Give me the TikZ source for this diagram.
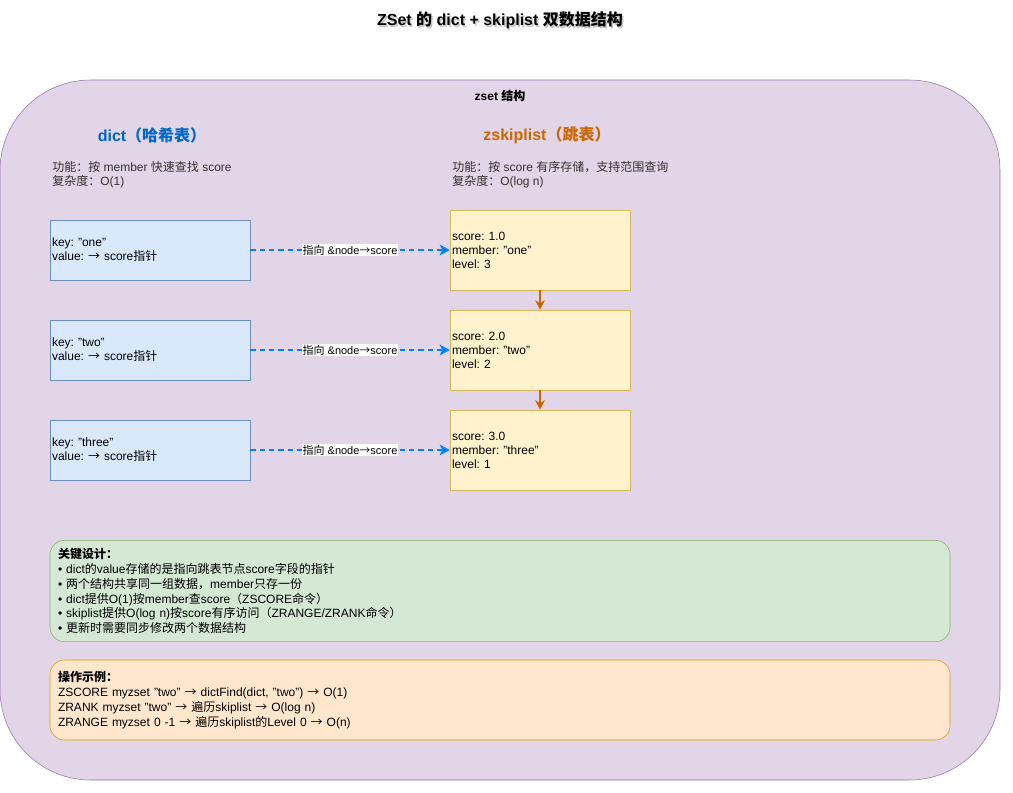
\documentclass[tikz,border=0pt]{standalone}
\usepackage{fontspec}
\setmainfont{Liberation Sans}
\newfontfamily\zhfont{Noto Sans CJK SC}
\newcommand{\zh}[1]{{\zhfont #1}}
\usepackage{xcolor}
\usepackage{tikz}
\usetikzlibrary{arrows.meta, positioning}
\frenchspacing
\definecolor{setfill}{HTML}{E1D5E7}
\definecolor{setdraw}{HTML}{9673A6}
\definecolor{dictfill}{HTML}{DAE8FC}
\definecolor{dictdraw}{HTML}{6C8EBF}
\definecolor{skipfill}{HTML}{FFF2CC}
\definecolor{skipdraw}{HTML}{D6B656}
\definecolor{keyfill}{HTML}{D5E8D4}
\definecolor{keydraw}{HTML}{82B366}
\definecolor{opfill}{HTML}{FFE6CC}
\definecolor{opdraw}{HTML}{D79B00}
\definecolor{ptrblue}{HTML}{007FFF}
\definecolor{dictblue}{HTML}{0066CC}
\definecolor{skiporange}{HTML}{CC6600}
\definecolor{desctext}{HTML}{333333}
\tikzset{
    dictbox/.style={rectangle, text width=147pt, minimum height=45pt, inner sep=1.5pt, align=left, draw=dictdraw, fill=dictfill, font=\fontsize{9}{10.5}\selectfont},
    skipnode/.style={rectangle, text width=132pt, minimum height=60pt, inner sep=1.5pt, align=left, draw=skipdraw, fill=skipfill, font=\fontsize{9}{10.5}\selectfont},
    notebox/.style={rectangle, rounded corners=11pt, text width=663pt, inner sep=6pt, align=left, font=\fontsize{9}{11.1}\selectfont},
    heading/.style={font=\fontsize{12}{14}\selectfont\bfseries},
    desc/.style={anchor=west, inner sep=0pt, align=left, text=desctext, font=\fontsize{9}{10.5}\selectfont},
    pointer/.style={line width=1.5pt, ptrblue, dash pattern=on 4pt off 3pt, -{Stealth[length=7.5pt, width=8pt, inset=2pt]}},
    ptrlabel/.style={fill=white, inner sep=0.5pt, text=black, font=\fontsize{8.25}{10}\selectfont},
    nextarrow/.style={line width=1.5pt, skiporange, -{Stealth[length=7pt, width=7pt, inset=2pt]}}
}
\begin{document}
\begin{tikzpicture}[x=0.75pt, y=-0.75pt, node distance=75pt]
    \useasboundingbox (0,0) rectangle (1013,792);
    \node (titleshadow) [heading, text=gray, opacity=0.45] at (501.5,22) {ZSet \zh{的} dict + skiplist \zh{双数据结构}};
    \node (title) [heading] at (500,20) {ZSet \zh{的} dict + skiplist \zh{双数据结构}};
    \node (zset) [rectangle, rounded corners=68pt, minimum width=750pt, minimum height=525pt, draw=setdraw, fill=setfill] at (500,430) {};
    \node (zsetlabel) [font=\fontsize{9}{10.5}\selectfont\bfseries] at (500,96) {zset \zh{结构}};

    \node (dicthead) [heading, text=dictblue] at (152,135) {dict\zh{（哈希表）}};
    \node (skiphead) [heading, text=skiporange] at (547,135) {zskiplist\zh{（跳表）}};
    \node (dictdesc) [desc] at (52,175) {\zh{功能：按} member \zh{快速查找} score\\\zh{复杂度：}O(1)};
    \node (skipdesc) [desc] at (452,175) {\zh{功能：按} score \zh{有序存储，支持范围查询}\\\zh{复杂度：}O(log n)};

    \node (d1) [dictbox] at (150,250) {key: "one"\\value: \zh{→} score\zh{指针}};
    \node (d2) [dictbox, below of=d1] {key: "two"\\value: \zh{→} score\zh{指针}};
    \node (d3) [dictbox, below of=d2] {key: "three"\\value: \zh{→} score\zh{指针}};

    \node (s1) [skipnode] at (540,250) {score: 1.0\\member: "one"\\level: 3};
    \node (s2) [skipnode, below of=s1] {score: 2.0\\member: "two"\\level: 2};
    \node (s3) [skipnode, below of=s2] {score: 3.0\\member: "three"\\level: 1};

    \draw [pointer] (d1) -- node[ptrlabel] {\zh{指向} \&node\zh{→}score} (s1);
    \draw [pointer] (d2) -- node[ptrlabel] {\zh{指向} \&node\zh{→}score} (s2);
    \draw [pointer] (d3) -- node[ptrlabel] {\zh{指向} \&node\zh{→}score} (s3);
    \draw [nextarrow] (s1) -- (s2);
    \draw [nextarrow] (s2) -- (s3);

    \node (design) [notebox, minimum height=75pt, draw=keydraw, fill=keyfill] at (500,591) {\textbf{\zh{关键设计：}}\\
        • dict\zh{的}value\zh{存储的是指向跳表节点}score\zh{字段的指针}\\
        • \zh{两个结构共享同一组数据，}member\zh{只存一份}\\
        • dict\zh{提供}O(1)\zh{按}member\zh{查}score\zh{（}ZSCORE\zh{命令）}\\
        • skiplist\zh{提供}O(log n)\zh{按}score\zh{有序访问（}ZRANGE/ZRANK\zh{命令）}\\
        • \zh{更新时需要同步修改两个数据结构}};
    \node (ops) [notebox, minimum height=60pt, draw=opdraw, fill=opfill] at (500,700) {\textbf{\zh{操作示例：}}\\
        ZSCORE myzset "two" \zh{→} dictFind(dict, "two") \zh{→} O(1)\\
        ZRANK myzset "two" \zh{→} \zh{遍历}skiplist \zh{→} O(log n)\\
        ZRANGE myzset 0 -1 \zh{→} \zh{遍历}skiplist\zh{的}Level 0 \zh{→} O(n)};
\end{tikzpicture}
\end{document}
